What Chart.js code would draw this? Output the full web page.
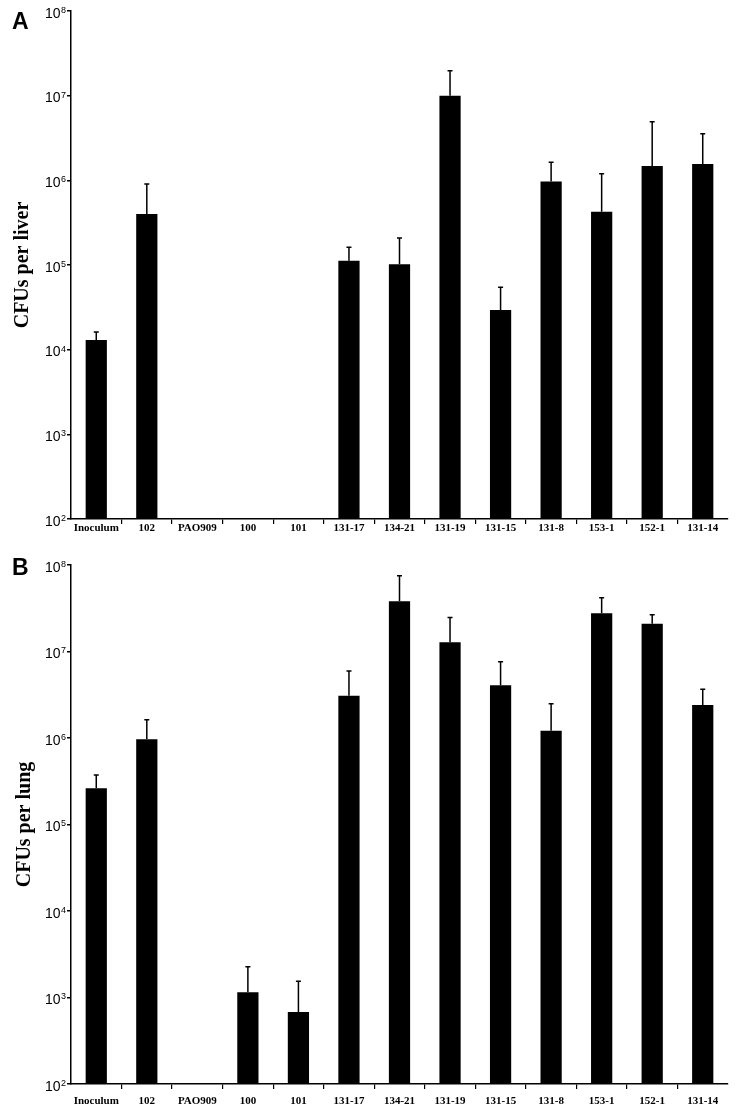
<!DOCTYPE html>
<html>
<head>
<meta charset="utf-8">
<script src="https://cdn.jsdelivr.net/npm/chart.js@4.4.1/dist/chart.umd.min.js"></script>
<style>
body{margin:0;background:#fff;width:744px;height:1112px;position:relative;overflow:hidden}
.panel{position:absolute;left:0;width:744px;height:556px}
.tag{position:absolute;font:bold 23px "Liberation Sans",Arial,sans-serif;color:#000}
</style>
</head>
<body>
<div class="panel" style="top:0"><canvas id="chartA"></canvas></div>
<div class="panel" style="top:556px"><canvas id="chartB"></canvas></div>
<div class="tag" style="left:12px;top:8px">A</div>
<div class="tag" style="left:12px;top:554px">B</div>
<script>
const strains = ['Inoculum','102','PAO909','100','101','131-17','134-21','131-19','131-15','131-8','153-1','152-1','131-14'];

// panel A - liver
const liverCfu = [1.3e4, 4.0e5, null, null, null, 1.12e5, 1.02e5, 1.0e7, 2.94e4, 9.7e5, 4.26e5, 1.48e6, 1.56e6];
const liverErr = [1.62e4, 9.06e5, null, null, null, 1.62e5, 2.08e5, 1.97e7, 5.46e4, 1.63e6, 1.20e6, 4.92e6, 3.56e6];

// panel B - lung
const lungCfu = [2.62e5, 9.66e5, null, 1.15e3, 6.8e2, 3.08e6, 3.80e7, 1.28e7, 4.06e6, 1.21e6, 2.77e7, 2.10e7, 2.41e6];
const lungErr = [3.73e5, 1.63e6, null, 2.27e3, 1.54e3, 5.96e6, 7.5e7, 2.48e7, 7.6e6, 2.49e6, 4.19e7, 2.66e7, 3.66e6];

const yTicks = [1e2, 1e3, 1e4, 1e5, 1e6, 1e7, 1e8];

// draws the upper error whisker of each bar
const errorBars = {
    id: 'errorBars',
    afterDatasetsDraw(chart, args, opts) {
        const ctx = chart.ctx;
        const ys = chart.scales.y;
        const meta = chart.getDatasetMeta(0);
        ctx.save();
        ctx.strokeStyle = '#000';
        ctx.lineWidth = 1.5;
        meta.data.forEach((bar, i) => {
            const e = opts.values[i];
            if (e == null || chart.data.datasets[0].data[i] == null) return;
            const yTop = ys.getPixelForValue(e);
            ctx.beginPath();
            ctx.moveTo(bar.x, bar.y);
            ctx.lineTo(bar.x, yTop);
            ctx.moveTo(bar.x - 2.5, yTop);
            ctx.lineTo(bar.x + 2.5, yTop);
            ctx.stroke();
        });
        ctx.restore();
    }
};

// "10" with a real superscript exponent next to each y tick
const powerLabels = {
    id: 'powerLabels',
    afterDraw(chart) {
        const ctx = chart.ctx;
        const ys = chart.scales.y;
        ctx.save();
        ctx.fillStyle = '#000';
        yTicks.forEach(v => {
            const y = ys.getPixelForValue(v);
            const exp = String(Math.round(Math.log10(v)));
            const xr = ys.right - 5;
            ctx.font = '9px "Liberation Sans",Arial,sans-serif';
            ctx.textAlign = 'right';
            ctx.textBaseline = 'top';
            ctx.fillText(exp, xr, y - 5);
            const w = ctx.measureText(exp).width;
            ctx.font = '14px "Liberation Sans",Arial,sans-serif';
            ctx.textBaseline = 'alphabetic';
            ctx.fillText('10', xr - w - 0.5, y + 6.5);
        });
        ctx.restore();
    }
};

function makeChart(id, values, errs, title, opt) {
    return new Chart(document.getElementById(id), {
        type: 'bar',
        data: {
            labels: strains,
            datasets: [{
                data: values,
                backgroundColor: '#000',
                borderWidth: 0,
                categoryPercentage: 1,
                barPercentage: 0.42
            }]
        },
        options: {
            responsive: true,
            maintainAspectRatio: false,
            animation: false,
            layout: {padding: {top: opt.top, right: 16, left: 0, bottom: 0}},
            plugins: {
                legend: {display: false},
                tooltip: {enabled: false},
                errorBars: {values: errs}
            },
            scales: {
                x: {
                    grid: {
                        display: true,
                        offset: true,
                        drawOnChartArea: false,
                        drawTicks: true,
                        tickLength: 5,
                        lineWidth: 1.2,
                        color: ctx => (ctx.index === 0 || ctx.index === undefined) ? 'rgba(0,0,0,0)' : '#000'
                    },
                    border: {display: true, color: '#000', width: 1.5},
                    ticks: {
                        color: '#000',
                        padding: opt.labelPad,
                        maxRotation: 0,
                        autoSkip: false,
                        font: {family: '"Liberation Serif","Times New Roman",serif', size: 11, weight: 'bold'}
                    },
                    afterFit: s => { s.height = opt.xHeight; }
                },
                y: {
                    type: 'logarithmic',
                    min: 1e2,
                    max: 1e8,
                    afterBuildTicks: s => { s.ticks = yTicks.map(v => ({value: v})); },
                    grid: {
                        display: true,
                        drawOnChartArea: false,
                        drawTicks: true,
                        tickLength: 4,
                        lineWidth: 1.5,
                        color: '#000'
                    },
                    border: {display: true, color: '#000', width: 1.5},
                    ticks: {
                        padding: 1,
                        callback: () => ''
                    },
                    title: {
                        display: true,
                        text: title,
                        color: '#000',
                        padding: {top: opt.titlePad, bottom: 0},
                        font: {family: '"Liberation Serif","Times New Roman",serif', size: 20, weight: 'bold'}
                    },
                    afterFit: s => { s.width = 71; }
                }
            }
        },
        plugins: [errorBars, powerLabels]
    });
}

makeChart('chartA', liverCfu, liverErr, 'CFUs per liver', {top: 11, xHeight: 37, labelPad: -2, titlePad: 11});
makeChart('chartB', lungCfu, lungErr, 'CFUs per lung', {top: 9, xHeight: 28, labelPad: 6, titlePad: 13});
</script>
</body>
</html>
